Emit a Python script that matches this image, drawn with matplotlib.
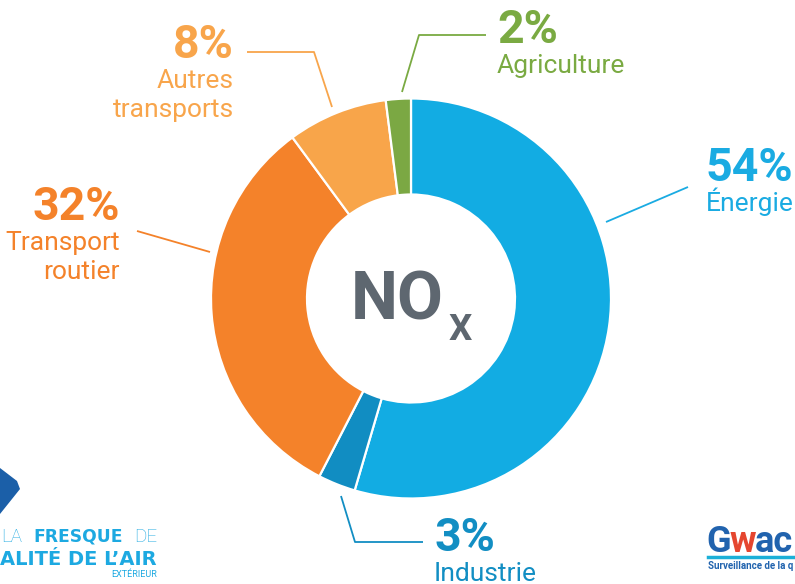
import matplotlib
matplotlib.use("Agg")
import matplotlib.pyplot as plt
from matplotlib.patches import Polygon

# ---------------- data ----------------
categories = ["Énergie", "Industrie", "Transport routier", "Autres transports", "Agriculture"]
label_lines = [["Énergie"], ["Industrie"], ["Transport", "routier"], ["Autres", "transports"], ["Agriculture"]]
values = [54, 3, 32, 8, 2]
colors = ["#12ACE3", "#118DC2", "#F4822A", "#F8A54A", "#7BA843"]
text_colors = ["#1AABE2", "#128EC3", "#F4822A", "#F8A54B", "#7AAA42"]

W, H = 795, 584
CX, CY, UNIT = 411, 298.5, 200.0

def P(x, y):
    """pixel (from top-left) -> data coords"""
    return ((x - CX) / UNIT, (CY - y) / UNIT)

fig = plt.figure(figsize=(W / 100, H / 100), dpi=100)
ax = fig.add_axes([0, 0, 1, 1])
ax.pie(values, colors=colors, startangle=90, counterclock=False, radius=1.0,
       wedgeprops=dict(width=0.48, edgecolor="white", linewidth=1.6))
x0, y0 = P(0, H)
x1, y1 = P(W, 0)
ax.set_xlim(x0, x1)
ax.set_ylim(y0, y1)
ax.set_aspect("equal")
ax.axis("off")

FONT = "Roboto"

# label layout (pixel positions): (x, pct baseline, ha)
layout = [
    (706, 181, "left"),
    (434, 551, "left"),
    (120, 220, "right"),
    (234, 58, "right"),
    (497, 43, "left"),
]
leaders = [
    [(606, 222), (688, 187)],
    [(341, 496), (355, 542), (423, 542)],
    [(210, 252), (137, 231)],
    [(332, 107), (314, 52), (247, 52)],
    [(402, 92), (419, 35), (486, 35)],
]

for i, cat in enumerate(categories):
    x, yb, ha = layout[i]
    c = text_colors[i]
    ax.text(*P(x, yb), f"{values[i]}%", fontsize=33.5, fontweight="bold", family=FONT,
            color=c, ha=ha, va="baseline")
    for j, line in enumerate(label_lines[i]):
        ax.text(*P(x, yb + 30 + 29 * j), line, fontsize=19, family=FONT,
                color=c, ha=ha, va="baseline")
    pts = [P(px, py) for px, py in leaders[i]]
    ax.plot([p[0] for p in pts], [p[1] for p in pts], color=c, lw=1.3,
            solid_capstyle="butt")

# centre label
ax.text(*P(397.5, 319), "NO", fontsize=48, fontweight="bold", family=FONT,
        color="#5E6770", ha="center", va="baseline")
ax.text(*P(449, 340), "X", fontsize=26.5, fontweight="bold", family=FONT,
        color="#5E6770", ha="left", va="baseline")

# ---------------- partial logos ----------------
ax.add_patch(Polygon([P(0, 468), P(17, 481), P(20, 489), P(0, 514)],
                     closed=True, color="#1B5FA8", lw=0))
logo_c = "#1DA9E1"
LF = "DejaVu Sans"
ax.text(*P(1, 542), "LA", fontsize=13.5, family=FONT, fontweight="light",
        color=logo_c, ha="left", va="baseline")
ax.text(*P(33, 542), "FRESQUE", fontsize=12.3, family=LF, fontweight="bold",
        color=logo_c, ha="left", va="baseline")
ax.text(*P(157, 542), "DE", fontsize=13.5, family=FONT, fontweight="light",
        color=logo_c, ha="right", va="baseline")
ax.text(*P(157, 565), "ALITÉ DE L’AIR", fontsize=14, family=LF, fontweight="bold",
        color=logo_c, ha="right", va="baseline")
ax.text(*P(157, 577), "EXTÉRIEUR", fontsize=6.5, family=FONT,
        color=logo_c, ha="right", va="baseline")

g_c = "#2163AE"
ax.text(*P(706, 552), "G", fontsize=26, family=FONT, fontweight="bold",
        color=g_c, ha="left", va="baseline")
ax.text(*P(730, 552), "w", fontsize=26, family=FONT, fontweight="bold",
        color="#E5462F", ha="left", va="baseline")
ax.text(*P(755, 552), "ac", fontsize=26, family=FONT, fontweight="bold",
        color=g_c, ha="left", va="baseline")
ax.plot(*zip(P(708, 557), P(795, 557)), color="#1BB0D8", lw=2.5)
ax.text(*P(708, 569), "Surveillance de la q", fontsize=7, family=FONT, fontweight="bold",
        color=g_c, ha="left", va="baseline")

fig.savefig("out.png", dpi=100)
